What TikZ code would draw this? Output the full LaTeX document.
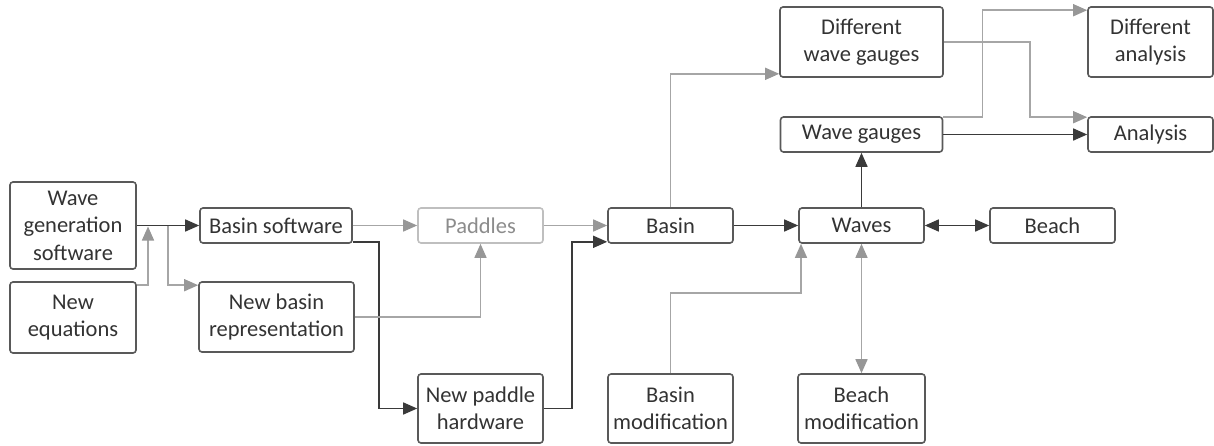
\documentclass[tikz,border=0pt]{standalone}
\usepackage{fontspec}
\setmainfont{Carlito}
\usetikzlibrary{arrows.meta}

\definecolor{darkline}{HTML}{3A3A3A}
\definecolor{lightline}{HTML}{A6A6A6}
\definecolor{lighttip}{HTML}{979797}
\definecolor{boxline}{HTML}{595959}
\definecolor{boxtext}{HTML}{333333}
\definecolor{paddleline}{HTML}{BFBFBF}
\definecolor{paddletext}{HTML}{8C8C8C}

\begin{document}
\begin{tikzpicture}[
  font=\fontsize{11.25}{13.75}\selectfont,
  box/.style={draw=boxline, line width=0.8pt, rounded corners=1.5pt, text=boxtext,
    align=center, minimum width=62.5pt, inner xsep=1pt, inner ysep=2pt},
  tip/.tip={Triangle[length=7pt, width=6pt]},
  ltip/.tip={Triangle[length=7pt, width=6pt, color=lighttip]},
  darr/.style={draw=darkline, line width=0.75pt, -tip},
  larr/.style={draw=lightline, line width=0.75pt, -ltip},
]

\newcommand\X{0.5pt}
\newcommand\Y{-0.5pt}

\useasboundingbox (0,0) rectangle (1214*\X, 445*\Y); %% spacing

%% software side
\node[box, minimum width=63pt, minimum height=43.5pt] (wgs) at (73*\X, 225.5*\Y) {Wave\\generation\\software};
\node[box, minimum width=63pt, minimum height=35.5pt] (neq) at (73*\X, 317.5*\Y) {New\\equations};
\node[box, minimum width=76pt, minimum height=17.5pt] (bsw) at (276*\X, 225.5*\Y) {Basin software};
\node[box, minimum width=77.5pt, minimum height=35pt] (nbr) at (276.5*\X, 317*\Y) {New basin\\representation};
\node[box, draw=paddleline, text=paddletext, minimum height=17.5pt] (pad) at (480.5*\X, 225.5*\Y) {Paddles};
\node[box, minimum height=34.5pt] (nph) at (480.5*\X, 408.5*\Y) {New paddle\\hardware};

%% basin side
\node[box, minimum height=17.5pt] (bas) at (670.5*\X, 225.5*\Y) {Basin};
\node[box, minimum height=34.5pt] (bmod) at (670.5*\X, 408.5*\Y) {Basin\\modification};
\node[box, minimum height=17.5pt] (wav) at (861.5*\X, 225.5*\Y) {Waves};
\node[box, minimum height=17.5pt] (bch) at (1052.5*\X, 225.5*\Y) {Beach};
\node[box, minimum width=63.5pt, minimum height=34.5pt] (bchm) at (861.5*\X, 408.5*\Y) {Beach\\modification};

%% gauges
\node[box, minimum width=81.5pt, minimum height=35pt] (dwg) at (861.5*\X, 42*\Y) {Different\\wave gauges};
\node[box, minimum width=81pt, minimum height=17.5pt] (wg) at (861.5*\X, 134.5*\Y) {Wave gauges};
\node[box, minimum height=35pt] (dan) at (1150.5*\X, 42*\Y) {Different\\analysis};
\node[box, minimum height=17.5pt] (ana) at (1150.5*\X, 134.5*\Y) {Analysis};

\coordinate (eqin) at (148*\X, 226.5*\Y);
\coordinate (split) at (168*\X, 225.5*\Y);
\coordinate (bmodbend) at (801*\X, 293*\Y);

%%
\draw[darr] (wgs.east) -- (bsw.west);
\draw[larr] ([yshift=-2pt]neq.north east) -| (eqin);
\draw[larr] (split) |- ([yshift=-2pt]nbr.north west);
\draw[larr] (bsw.east) -- (pad.west);
\draw[darr] ([yshift=1pt]bsw.south east) -- ++(26*\X, 0) |- (nph.west);
\draw[larr] (nbr.east) -| (pad.south);
\draw[larr] (pad.east) -- (bas.west);
\draw[darr] (nph.east) -- ++(28*\X, 0) |- ([yshift=1pt]bas.south west);

%%
\draw[larr] (bas.north) |- ([yshift=2pt]dwg.south west);
\draw[darr] (bas.east) -- (wav.west);
\draw[darr] (wav.north) -- (wg.south);
\draw[darr, tip-tip] (wav.east) -- (bch.west);
\draw[larr] (bmod.north) |- (bmodbend) -- (bmodbend |- wav.south);
\draw[larr, ltip-ltip] (wav.south) -- (bchm.north);

%%
\draw[larr] ([yshift=-0.5pt]wg.north east) -- ++(39*\X, 0) |- ([yshift=-2pt]dan.north west);
\draw[larr] (dwg.east) -- ++(86*\X, 0) |- ([yshift=-0.5pt]ana.north west);
\draw[darr] (wg.east) -- (ana.west);

\end{tikzpicture}
\end{document}
